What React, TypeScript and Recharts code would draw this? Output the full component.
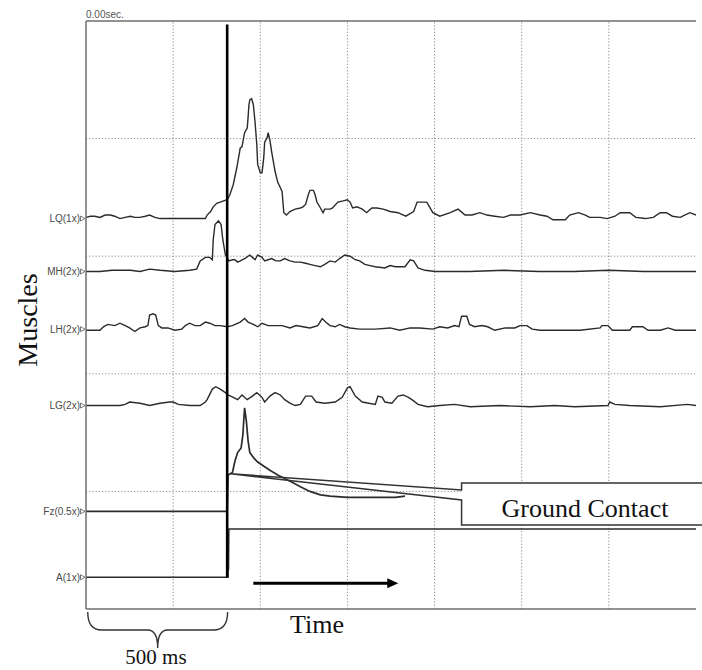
import React from 'react';
import { ComposedChart, Line, XAxis, YAxis, ReferenceLine } from 'recharts';

// ---------- layout ----------
const W = 702;
const H = 670;
const MARGIN = { top: 21, right: 6, bottom: 61, left: 0 };
const YAXIS_W = 86;

// ---------- axes (time in ms, amplitude in display units) ----------
const X_DOMAIN: [number, number] = [0, 700];
const Y_DOMAIN: [number, number] = [0, 500];
const X_GRID = [100, 200, 300, 400, 500, 600];
const Y_GRID = [100, 200, 300, 400];
const CONTACT_T = 162;
const CONTACT_TOP = 497;
const CONTACT_BOTTOM = 27;

// ---------- channels ----------
const channelLabels = ['LQ(1x)', 'MH(2x)', 'LH(2x)', 'LG(2x)', 'Fz(0.5x)', 'A(1x)'];
const channelOffsets = [332, 287, 238, 173, 83, 27];

const lqSignal: [number, number][] = [
  [0, 1], [5, 2], [10, 2], [16, 1], [22, 3], [28, 3], [33, 2], [39, 0], [45, 1], [51, 2], [56, 1], [62, 1],
  [68, 2], [73, 3], [79, 1], [85, 0], [100, 0], [119, 0], [137, 0], [139, 3], [143, 6], [146, 10], [150, 13],
  [154, 14], [158, 15], [162, 16],
  [165, 20], [169, 29], [173, 43], [177, 60], [179, 61], [182, 73], [185, 77], [186, 86], [187, 97], [188, 101],
  [190, 102], [192, 97], [194, 82], [196, 63], [197, 46], [200, 39], [202, 39], [204, 52], [205, 65], [208, 69],
  [209, 73], [211, 67], [213, 57], [217, 40], [220, 31], [225, 23], [227, 5], [230, 3], [234, 6], [240, 8],
  [246, 9], [249, 10], [252, 12], [255, 20], [257, 24], [261, 24], [263, 20], [265, 14], [269, 9], [272, 5],
  [274, 8], [280, 8], [283, 9], [289, 14], [295, 15], [300, 16], [303, 14], [306, 9], [311, 10], [317, 8],
  [322, 5], [328, 9], [334, 9], [341, 8], [349, 6], [358, 5], [367, 2], [376, 6], [380, 14], [391, 14],
  [398, 5], [406, 2], [418, 5], [427, 8], [435, 3], [443, 3], [452, 5], [460, 3], [469, 2], [479, 1],
  [487, 3], [498, 3], [510, 5], [521, 3], [529, 2], [536, -1], [550, -1], [555, 3], [565, 5], [573, 3],
  [578, 1], [590, 1], [598, 0], [607, 2], [613, 5], [624, 5], [631, 1], [642, 0], [651, 1], [659, 5],
  [666, 5], [673, 2], [682, 1], [687, 3], [693, 5], [700, 3],
];

const mhSignal: [number, number][] = [
  [0, 0], [16, 0], [30, 1], [51, 1], [62, 0], [73, 2], [85, 1], [102, 0], [119, 1], [127, 2], [131, 9],
  [137, 12], [142, 12], [145, 10], [146, 27], [148, 40], [152, 43], [155, 40], [157, 27], [160, 14], [162, 12],
  [164, 9], [168, 10], [171, 10], [174, 8], [177, 9], [182, 11], [188, 14], [191, 12], [194, 10], [197, 14],
  [202, 12], [205, 9], [209, 10], [213, 11], [218, 9], [223, 9], [228, 11], [234, 9], [240, 8], [246, 8],
  [252, 7], [257, 6], [263, 5], [269, 4], [274, 6], [280, 9], [286, 8], [291, 11], [297, 14], [303, 13],
  [309, 10], [314, 9], [320, 6], [326, 5], [332, 4], [343, 3], [349, 5], [355, 4], [366, 4], [372, 10],
  [376, 9], [381, 3], [389, 1], [401, 0], [440, 0], [480, 1], [520, 0], [560, 0], [600, 1], [640, 0], [700, 0],
];

const lhSignal: [number, number][] = [
  [0, -1], [16, -1], [20, 2], [25, 4], [33, 3], [39, 5], [45, 3], [50, 1], [56, -2], [62, 1], [68, 2], [71, 3],
  [73, 12], [77, 13], [80, 12], [83, 3], [87, 1], [94, 1], [102, -1], [110, 0], [114, 3], [119, 5], [125, 3],
  [131, 3], [137, 6], [142, 5], [148, 3], [154, 3], [162, 2], [168, 3], [177, 6], [182, 9], [186, 6], [192, 4],
  [197, 2], [202, 5], [209, 3], [217, 3], [225, 3], [234, 1], [241, 3], [249, 2], [257, 1], [266, 3], [271, 9],
  [275, 6], [280, 3], [286, 2], [291, 4], [297, 2], [303, 1], [314, 0], [332, 0], [349, 1], [360, -1], [372, 1],
  [383, 1], [398, 0], [406, 2], [415, 1], [423, 3], [428, 2], [431, 11], [437, 11], [440, 4], [446, 2],
  [454, 3], [461, 2], [469, -1], [481, 1], [492, 1], [498, 3], [506, 3], [512, 0], [521, -1], [544, -1],
  [567, -1], [590, 1], [592, 3], [599, 3], [604, -1], [624, -1], [627, 2], [639, 2], [645, -1], [659, -1],
  [668, 1], [676, -1], [700, -1],
];

const lgSignal: [number, number][] = [
  [0, 0], [16, 0], [39, 0], [45, 1], [50, 3], [62, 2], [73, 0], [85, 2], [96, 3], [100, 3], [106, 1], [119, 0],
  [131, 0], [137, 3], [139, 5], [145, 14], [149, 16], [154, 14], [160, 11], [163, 9], [169, 7], [174, 5],
  [179, 9], [185, 5], [191, 8], [196, 11], [202, 7], [205, 3], [211, 8], [217, 11], [223, 9], [228, 5],
  [234, 2], [240, 0], [246, 1], [252, 8], [259, 8], [264, 3], [274, 2], [286, 3], [294, 7], [300, 15],
  [303, 16], [309, 8], [317, 3], [332, 1], [335, 8], [340, 7], [343, 3], [351, 2], [358, 8], [364, 9],
  [370, 7], [374, 5], [381, 1], [392, -1], [406, 0], [423, 1], [441, -1], [475, 0], [510, -1], [538, 0],
  [561, -1], [599, 0], [601, 3], [607, 1], [624, 0], [659, -1], [690, 1], [700, 0],
];

const fzSignal: [number, number][] = [
  [0, 0], [162, 0], [163, 31], [168, 33], [171, 43], [174, 50], [178, 54], [180, 65], [181, 77], [182, 88],
  [184, 77], [186, 60], [188, 50], [193, 45], [197, 42], [205, 38], [211, 35], [220, 31], [228, 28],
  [236, 25], [246, 21], [257, 17], [269, 14], [280, 13], [300, 12], [326, 12], [355, 12], [366, 13],
];

const aSignal: [number, number][] = [
  [0, 0], [163, 0], [163.3, 38], [163.6, 6], [164, 41], [700, 41],
];

const signals = [lqSignal, mhSignal, lhSignal, lgSignal, fzSignal, aSignal];
const series = signals.map((s, i) => s.map(([t, v]) => ({ t, v: v + channelOffsets[i] })));

// ---------- styles ----------
const TRACE = '#2b2b2b';
const GRID = '#8a8a8a';
const FRAME = '#6e6e6e';
const SANS = "'Liberation Sans', Arial, sans-serif";
const SERIF = "'Liberation Serif', 'Times New Roman', serif";

// mapping for overlay annotations (same as the chart's plot box)
const PL = MARGIN.left + YAXIS_W;
const PT = MARGIN.top;
const PW = W - PL - MARGIN.right;
const PH = H - PT - MARGIN.bottom;
const px = (t: number) => PL + ((t - X_DOMAIN[0]) / (X_DOMAIN[1] - X_DOMAIN[0])) * PW;
const py = (v: number) => PT + PH - ((v - Y_DOMAIN[0]) / (Y_DOMAIN[1] - Y_DOMAIN[0])) * PH;

const ChannelTick = (props: any) => {
  const { y, payload } = props;
  const idx = channelOffsets.indexOf(payload.value);
  const ax = PL;
  return (
    <g>
      <text x={ax - 6} y={y} dy={3.5} textAnchor="end" fontSize={10} fontFamily={SANS} fill="#4a4a4a">
        {channelLabels[idx]}
      </text>
      <path d={`M${ax - 5.5},${y - 2.5} L${ax - 1},${y} L${ax - 5.5},${y + 2.5} Z`} fill="#fff" stroke="#555" strokeWidth={0.8} />
    </g>
  );
};

export default function App() {
  const arrowT0 = 192;
  const arrowT1 = 356;
  const arrowV = 22;
  const apexT = 166;
  const apexV = 115;
  const boxT = 431;
  const ax0 = px(arrowT0), ax1 = px(arrowT1), ay = py(arrowV);
  const apX = px(apexT), apY = py(apexV);
  const bx = px(boxT);
  const bTop = 483, bBot = 525, bJ1 = 490, bJ2 = 500;
  const braceL = px(2), braceR = px(CONTACT_T + 0.5), braceM = (braceL + braceR) / 2;
  const bY0 = 612, bY1 = 630, bY2 = 648;

  return (
    <div style={{ position: 'absolute', left: 0, top: 0, width: W, height: H, background: '#fff' }}>
      <ComposedChart width={W} height={H} margin={MARGIN}>
        <XAxis dataKey="t" type="number" domain={X_DOMAIN} allowDataOverflow hide />
        <YAxis
          type="number"
          domain={Y_DOMAIN}
          allowDataOverflow
          width={YAXIS_W}
          ticks={[...channelOffsets].sort((a, b) => a - b)}
          interval={0}
          tick={<ChannelTick />}
          tickLine={false}
          axisLine={{ stroke: FRAME, strokeWidth: 1.5 }}
        />
        {X_GRID.map((t) => (
          <ReferenceLine key={'gx' + t} x={t} stroke={GRID} strokeDasharray="1.2 2" strokeWidth={1} />
        ))}
        {Y_GRID.map((v) => (
          <ReferenceLine key={'gy' + v} y={v} stroke={GRID} strokeDasharray="1.2 2" strokeWidth={1} />
        ))}
        <ReferenceLine y={Y_DOMAIN[1]} stroke={FRAME} strokeWidth={1.5} ifOverflow="visible" />
        <ReferenceLine y={Y_DOMAIN[0]} stroke={FRAME} strokeWidth={1.5} ifOverflow="visible" />
        {series.map((d, i) => (
          <Line
            key={channelLabels[i]}
            data={d}
            dataKey="v"
            type="linear"
            dot={false}
            activeDot={false}
            stroke={TRACE}
            strokeWidth={i === 4 ? 1.7 : 1.4}
            isAnimationActive={false}
          />
        ))}
        <ReferenceLine
          segment={[{ x: CONTACT_T, y: CONTACT_TOP }, { x: CONTACT_T, y: CONTACT_BOTTOM }]}
          stroke="#000"
          strokeWidth={2.6}
        />
      </ComposedChart>

      <svg width={W} height={H} style={{ position: 'absolute', left: 0, top: 0, pointerEvents: 'none' }}>
        <text x={PL} y={18} fontSize={10} fontFamily={SANS} fill="#555">0.00sec.</text>

        <text
          x={37}
          y={320}
          transform="rotate(-90 37 320)"
          textAnchor="middle"
          fontSize={28}
          fontFamily={SERIF}
          fill="#111"
        >
          Muscles
        </text>

        {/* callout */}
        <rect x={bx} y={bTop} width={W - bx + 10} height={bBot - bTop} fill="#fff" />
        <path
          d={`M${W + 5},${bTop} L${bx},${bTop} L${bx},${bJ1} L${apX},${apY} L${bx},${bJ2} L${bx},${bBot} L${W + 5},${bBot}`}
          fill="none"
          stroke="#333"
          strokeWidth={1.5}
        />
        <text x={585} y={517} textAnchor="middle" fontSize={26} fontFamily={SERIF} fill="#111">Ground Contact</text>

        {/* time arrow */}
        <line x1={ax0} y1={ay} x2={ax1 - 6} y2={ay} stroke="#000" strokeWidth={3} />
        <path d={`M${ax1 - 9},${ay - 5} L${ax1 + 2},${ay} L${ax1 - 9},${ay + 5} Z`} fill="#000" />
        <text x={290} y={633} fontSize={26} fontFamily={SERIF} fill="#111">Time</text>

        {/* 500 ms brace */}
        <path
          d={`M${braceL},${bY0} Q${braceL},${bY1} ${braceL + 14},${bY1} L${braceM - 10},${bY1} Q${braceM},${bY1} ${braceM},${bY2} Q${braceM},${bY1} ${braceM + 10},${bY1} L${braceR - 14},${bY1} Q${braceR},${bY1} ${braceR},${bY0}`}
          fill="none"
          stroke="#333"
          strokeWidth={1.4}
        />
        <text x={156} y={664} textAnchor="middle" fontSize={21} fontFamily={SERIF} fill="#111">500 ms</text>
      </svg>
    </div>
  );
}
